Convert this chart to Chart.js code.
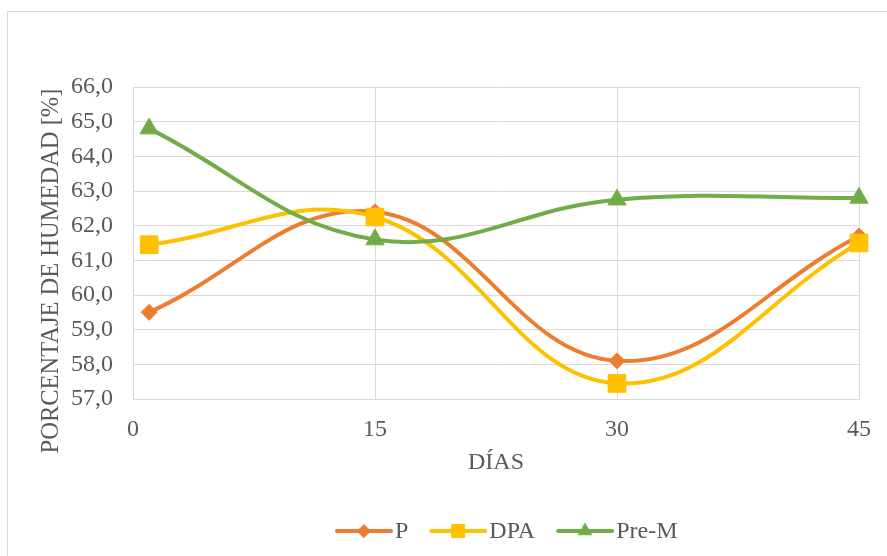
<!DOCTYPE html>
<html>
<head>
<meta charset="utf-8">
<script src="https://cdn.jsdelivr.net/npm/chart.js@4.4.1/dist/chart.umd.min.js"></script>
<style>
  html, body { margin: 0; padding: 0; background: #fff; overflow: hidden; }
  #frame { position: absolute; left: 7px; top: 11px; width: 900px; height: 600px;
           border-left: 1px solid #d9d9d9; border-top: 1px solid #d9d9d9; }
  #wrap { position: absolute; left: 0; top: 0; width: 887px; height: 556px; }
</style>
</head>
<body>
<div id="frame"></div>
<div id="wrap"><canvas id="humedad"></canvas></div>
<script>
// days of measurement (first sample taken on day 1)
const dias = [1, 15, 30, 45];
const xTicks = [0, 15, 30, 45];

// % humidity per treatment
const serieP = [59.5, 62.4, 58.1, 61.7];
const serieDPA = [61.45, 62.25, 57.45, 61.5];
const seriePreM = [64.8, 61.6, 62.75, 62.8];

const yMin = 57, yMax = 66;
const yTitulo = 'PORCENTAJE DE HUMEDAD [%]';

const toPoints = vals => vals.map((v, i) => ({ x: dias[i], y: v }));
const comma = v => v.toFixed(1).replace('.', ',');

const fuente = "'Liberation Serif', 'Times New Roman', serif";
Chart.defaults.font.family = fuente;
Chart.defaults.font.size = 24;
Chart.defaults.color = '#595959';

const gris = '#d9d9d9';

// y title sits a bit lower than the plot centre in the original, so draw it by hand
const yTitlePlugin = {
  id: 'yTitle',
  afterDraw(chart) {
    const ctx = chart.ctx;
    ctx.save();
    ctx.font = '24.5px ' + fuente;
    ctx.fillStyle = '#595959';
    ctx.textAlign = 'center';
    ctx.textBaseline = 'middle';
    ctx.translate(52, 271);
    ctx.rotate(-Math.PI / 2);
    ctx.fillText(yTitulo, 0, 0);
    ctx.restore();
  }
};

// legend drawn by hand: line + marker + label, as in the original
const legendPlugin = {
  id: 'lineLegend',
  afterDraw(chart) {
    const ctx = chart.ctx;
    const items = chart.data.datasets;
    ctx.save();
    ctx.font = '24px ' + fuente;
    ctx.textBaseline = 'middle';
    let x = 337;
    const y = 531;
    items.forEach(ds => {
      ctx.strokeStyle = ds.borderColor;
      ctx.lineWidth = 4;
      ctx.lineCap = 'round';
      ctx.beginPath();
      ctx.moveTo(x, y);
      ctx.lineTo(x + 54, y);
      ctx.stroke();
      ctx.fillStyle = ds.borderColor;
      ctx.strokeStyle = ds.borderColor;
      ctx.lineWidth = 1;
      Chart.helpers.drawPoint(ctx, {
        pointStyle: ds.pointStyle,
        radius: ds.legendRadius,
        rotation: 0,
        borderWidth: 1
      }, x + 27, y);
      ctx.fillStyle = '#595959';
      ctx.fillText(ds.label, x + 58, y + 1);
      x += 58 + ctx.measureText(ds.label).width + 23;
    });
    ctx.restore();
  }
};

const ctx = document.getElementById('humedad').getContext('2d');

const chart = new Chart(ctx, {
  type: 'line',
  data: {
    datasets: [
      {
        label: 'P',
        data: toPoints(serieP),
        borderColor: '#ED7D31',
        backgroundColor: '#ED7D31',
        pointStyle: 'rectRot',
        pointRadius: 8,
        legendRadius: 6.5,
        clip: false,
        order: 3
      },
      {
        label: 'DPA',
        data: toPoints(serieDPA),
        borderColor: '#FFC000',
        backgroundColor: '#FFC000',
        pointStyle: 'rect',
        pointRadius: 12.5,
        legendRadius: 9,
        clip: false,
        order: 2
      },
      {
        label: 'Pre-M',
        data: toPoints(seriePreM),
        borderColor: '#70AD47',
        backgroundColor: '#70AD47',
        pointStyle: 'triangle',
        pointRadius: 10.5,
        legendRadius: 7.5,
        clip: false,
        order: 1
      }
    ]
  },
  options: {
    responsive: true,
    maintainAspectRatio: false,
    animation: false,
    elements: {
      line: { borderWidth: 4, tension: 0.4, fill: false, capBezierPoints: false },
      point: { borderWidth: 1, hoverRadius: 10 }
    },
    layout: { padding: { top: 87, left: 0, right: 26, bottom: 67 } },
    plugins: {
      legend: { display: false },
      tooltip: { enabled: false }
    },
    scales: {
      x: {
        type: 'linear',
        min: xTicks[0],
        max: xTicks[xTicks.length - 1],
        afterBuildTicks: scale => { scale.ticks = xTicks.map(v => ({ value: v })); },
        grid: { color: gris, lineWidth: 1, drawTicks: false },
        border: { color: gris, width: 1 },
        ticks: { padding: 16, color: '#595959' },
        title: { display: true, text: 'DÍAS', color: '#595959', padding: { top: 0, bottom: 12 } },
        afterFit: scale => { scale.height = 90; }
      },
      y: {
        min: yMin,
        max: yMax,
        grid: { color: gris, lineWidth: 1, drawTicks: false },
        border: { color: gris, width: 1 },
        ticks: { stepSize: 1, padding: 20, color: '#595959', callback: v => comma(v) },
        title: { display: false },
        afterFit: scale => { scale.width = 133; }
      }
    }
  },
  plugins: [yTitlePlugin, legendPlugin]
});
</script>
</body>
</html>
